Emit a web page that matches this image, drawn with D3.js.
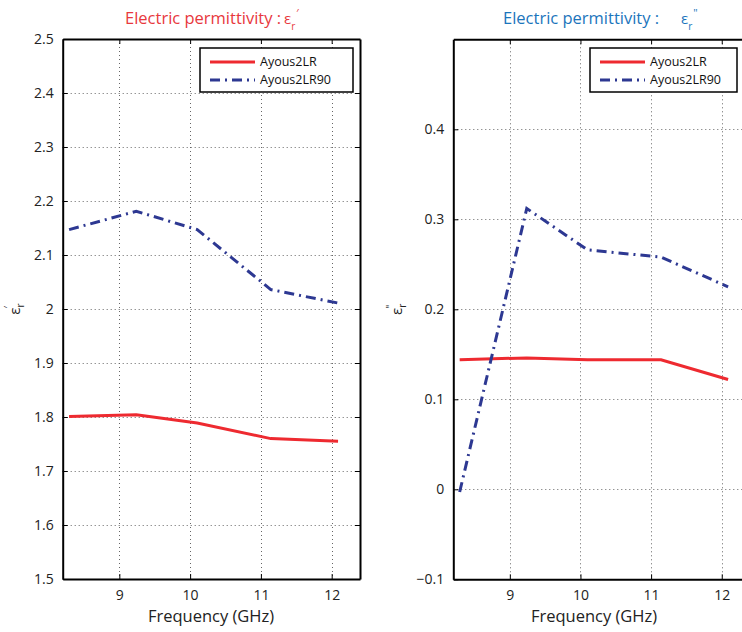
<!DOCTYPE html>
<html>
<head>
<meta charset="utf-8">
<script src="https://cdn.jsdelivr.net/npm/d3@7"></script>
<style>
  html, body { margin: 0; padding: 0; background: #fff; }
  svg { display: block; font-family: "Open Sans", "Noto Sans", sans-serif; }
  text { white-space: pre; }
</style>
</head>
<body>
<svg id="chart" width="742" height="632"></svg>
<script>
// Measured frequencies (GHz)
const freq = [8.29, 9.24, 10.1, 11.14, 12.09];

// Real part of relative permittivity
const realLR   = [1.801, 1.804, 1.789, 1.760, 1.755];
const realLR90 = [2.147, 2.181, 2.147, 2.036, 2.011];

// Imaginary part of relative permittivity
const imagLR   = [0.144, 0.146, 0.144, 0.144, 0.122];
const imagLR90 = [-0.003, 0.312, 0.266, 0.258, 0.225];

const seriesNames = ["Ayous2LR", "Ayous2LR90"];
const xTicks = [9, 10, 11, 12];
const realTicks = [1.5, 1.6, 1.7, 1.8, 1.9, 2, 2.1, 2.2, 2.3, 2.4, 2.5];
const imagTicks = [-0.1, 0, 0.1, 0.2, 0.3, 0.4];

const RED = "#ee2a30";
const BLUE = "#2d3892";

const svg = d3.select("#chart");

function panel(opts) {
  const x = d3.scaleLinear().domain([8.2, 12.4]).range([opts.left, opts.right]);
  const y = d3.scaleLinear().domain(opts.yDomain).range([opts.bottom, opts.top]);
  const g = svg.append("g");

  // dotted grid
  const grid = g.append("g").attr("stroke", "#333").attr("stroke-width", 1)
    .attr("stroke-dasharray", "1,3").attr("opacity", 0.75);
  grid.selectAll("line.v").data(xTicks).join("line")
    .attr("x1", d => Math.round(x(d)) + 0.5).attr("x2", d => Math.round(x(d)) + 0.5)
    .attr("y1", opts.top).attr("y2", opts.bottom);
  grid.selectAll("line.h").data(opts.gridY).join("line")
    .attr("x1", opts.left).attr("x2", opts.right)
    .attr("y1", d => Math.round(y(d)) + 0.5).attr("y2", d => Math.round(y(d)) + 0.5);

  // axes: labelled bottom/left, inward ticks on all four sides
  const fmt = d => d < 0 ? "\u2212" + Math.abs(d) : String(d);
  const bottom = g.append("g").attr("transform", `translate(0,${opts.bottom})`)
    .call(d3.axisBottom(x).tickValues(xTicks).tickSizeInner(-5).tickSizeOuter(0).tickPadding(11).tickFormat(fmt));
  const top = g.append("g").attr("transform", `translate(0,${opts.top})`)
    .call(d3.axisTop(x).tickValues(xTicks).tickSizeInner(-5).tickSizeOuter(0).tickFormat(""));
  const leftAx = g.append("g").attr("transform", `translate(${opts.left},0)`)
    .call(d3.axisLeft(y).tickValues(opts.yTicks).tickSizeInner(-5).tickSizeOuter(0).tickPadding(9).tickFormat(fmt));
  const rightAx = g.append("g").attr("transform", `translate(${opts.right},0)`)
    .call(d3.axisRight(y).tickValues(opts.yTicks).tickSizeInner(-5).tickSizeOuter(0).tickFormat(""));
  [bottom, top, leftAx, rightAx].forEach(a => {
    a.select(".domain").attr("stroke", "#000").attr("stroke-width", 2);
    a.selectAll(".tick line").attr("stroke", "#000").attr("stroke-width", 1);
    a.selectAll(".tick text").attr("font-size", 14).attr("fill", "#222")
      .attr("font-family", "'Open Sans', sans-serif");
  });

  // curves
  const line = d3.line().x((d, i) => x(freq[i])).y(d => y(d));
  g.append("path").datum(opts.a).attr("d", line).attr("fill", "none")
    .attr("stroke", RED).attr("stroke-width", 3);
  g.append("path").datum(opts.b).attr("d", line).attr("fill", "none")
    .attr("stroke", BLUE).attr("stroke-width", 3).attr("stroke-dasharray", "10,5,2,5");

  // legend
  const lg = g.append("g").attr("transform", `translate(${opts.legendX},48)`);
  lg.append("rect").attr("x", 0).attr("y", 0).attr("width", opts.legendW).attr("height", 44)
    .attr("fill", "#fff").attr("stroke", "#000").attr("stroke-width", 1.5);
  seriesNames.forEach((name, i) => {
    const yy = 14 + i * 18;
    lg.append("line").attr("x1", 10).attr("x2", 55).attr("y1", yy).attr("y2", yy)
      .attr("stroke", i === 0 ? RED : BLUE).attr("stroke-width", 3)
      .attr("stroke-dasharray", i === 0 ? null : "10,5,2,5");
    lg.append("text").attr("x", 60).attr("y", yy).attr("dy", "0.35em")
      .attr("font-size", 12.5).attr("fill", "#111").text(name);
  });

  // axis title
  g.append("text").attr("x", opts.xLabelX).attr("y", 622).attr("text-anchor", "middle")
    .attr("font-size", 16.5).attr("fill", "#222").text("Frequency (GHz)");

  // rotated y label: ε with subscript r and prime mark
  const yl = g.append("text").attr("transform", `translate(${opts.yLabelX},${(opts.top + opts.bottom) / 2}) rotate(-90)`)
    .attr("text-anchor", "middle").attr("font-size", 15).attr("fill", "#222");
  yl.append("tspan").text("\u03b5");
  yl.append("tspan").attr("font-size", 10).attr("dy", 4).text("r");
  yl.append("tspan").attr("font-size", 10).attr("dx", -5).attr("dy", -12).text(opts.mark);

  // panel title
  const t = g.append("text").attr("x", opts.titleX).attr("y", 24)
    .attr("font-size", 16.5).attr("fill", opts.titleColor);
  t.append("tspan").text(opts.titleText);
  t.append("tspan").attr("x", opts.epsX).attr("font-size", 15).text("\u03b5");
  t.append("tspan").attr("font-size", 10).attr("dy", 6).text("r");
  t.append("tspan").attr("font-size", 11).attr("dx", 1).attr("dy", -13).text(opts.mark);
}

panel({
  left: 62.7, right: 360, top: 39, bottom: 579,
  yDomain: [1.5, 2.5], yTicks: realTicks, gridY: realTicks.slice(1, -1),
  a: realLR, b: realLR90,
  legendX: 200, legendW: 153, xLabelX: 211, yLabelX: 20,
  mark: "\u2032", titleX: 125, epsX: 284,
  titleText: "Electric permittivity :", titleColor: "#e8383d"
});

panel({
  left: 453.3, right: 750, top: 39.3, bottom: 579.3,
  yDomain: [-0.1, 0.5], yTicks: imagTicks, gridY: imagTicks.slice(1),
  a: imagLR, b: imagLR90,
  legendX: 590, legendW: 147, xLabelX: 594, yLabelX: 402,
  mark: "\"", titleX: 503, epsX: 681,
  titleText: "Electric permittivity :", titleColor: "#1b75bc"
});
</script>
</body>
</html>
